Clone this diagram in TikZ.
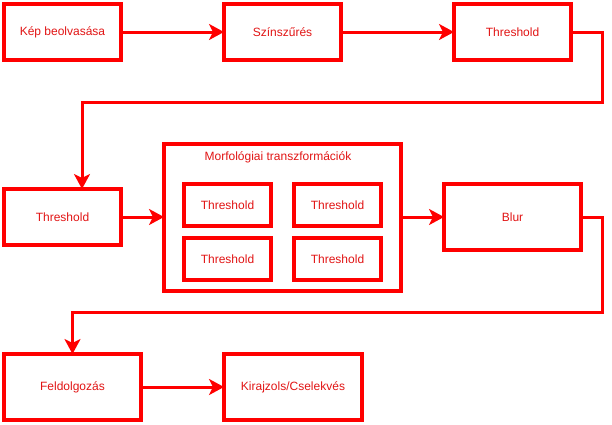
\documentclass[tikz,border=0pt]{standalone}
\usepackage{fontspec}
\setmainfont{Liberation Sans}
\usetikzlibrary{arrows.meta}
\definecolor{boxred}{RGB}{255,0,0}
\definecolor{txtred}{RGB}{225,20,20}
\tikzset{
  blk/.style={draw=boxred, line width=4.5pt, inner sep=0pt, outer sep=0pt,
    text=txtred, font=\fontsize{12}{14}\selectfont, align=center},
  conn/.style={draw=boxred, line width=3pt,
    -{Stealth[length=15pt,width=16pt,inset=4pt]}},
}
\begin{document}
\begin{tikzpicture}[x=1pt,y=-1pt]
\useasboundingbox (0,0) rectangle (612,424);
% row 1
\node[blk, minimum width=117pt, minimum height=56pt] (kep) at (62.5,32) {Kép beolvasása};
\node[blk, minimum width=117pt, minimum height=56pt] (szin) at (282.5,32) {Színszűrés};
\node[blk, minimum width=117pt, minimum height=56pt] (thr1) at (512.5,32) {Threshold};
% row 2
\node[blk, minimum width=117pt, minimum height=56pt] (thr2) at (62.5,217) {Threshold};
\node[blk, minimum width=237pt, minimum height=147pt] (morph) at (282.5,217.5) {};
\node[text=txtred, font=\fontsize{12}{14}\selectfont] (mtitle) at (278,157.5) {Morfológiai transzformációk};
\node[blk, minimum width=87pt, minimum height=42pt] (m1) at (227.5,205) {Threshold};
\node[blk, minimum width=87pt, minimum height=42pt] (m2) at (337.5,205) {Threshold};
\node[blk, minimum width=87pt, minimum height=42pt] (m3) at (227.5,259) {Threshold};
\node[blk, minimum width=87pt, minimum height=42pt] (m4) at (337.5,259) {Threshold};
\node[blk, minimum width=137pt, minimum height=66pt] (blur) at (512.5,217) {Blur};
% row 3
\node[blk, minimum width=137pt, minimum height=66pt] (feld) at (72.5,387) {Feldolgozás};
\node[blk, minimum width=138pt, minimum height=66pt] (kir) at (293,387) {Kirajzols/Cselekvés};
% bend points
\coordinate (b1) at (602,102);
\coordinate (b2) at (82,102);
\coordinate (b3) at (602,312);
\coordinate (b4) at (72.5,312);
% connectors
\draw[conn] (kep.east) -- (szin.west);
\draw[conn] (szin.east) -- (thr1.west);
\draw[conn] (thr1.east) -| (b1) -- (b2) -- (b2 |- thr2.north);
\draw[conn] (thr2.east) -- (morph.west |- thr2.east);
\draw[conn] (morph.east |- blur.west) -- (blur.west);
\draw[conn] (blur.east) -| (b3) -- (b4) -- (feld.north);
\draw[conn] (feld.east) -- (kir.west);
\end{tikzpicture}
\end{document}
